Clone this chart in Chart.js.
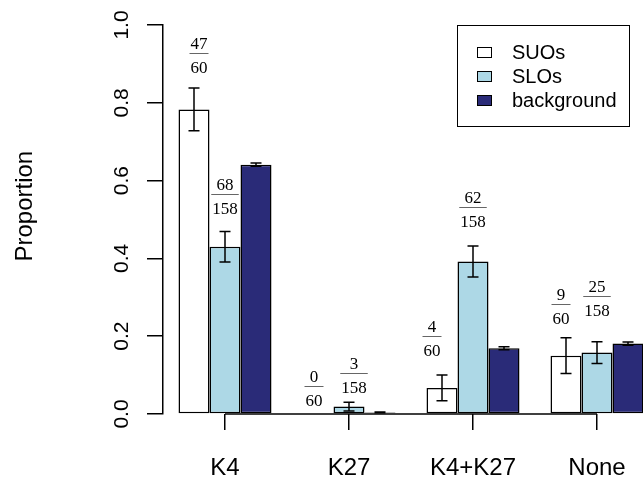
<!DOCTYPE html>
<html>
<head>
<meta charset="utf-8">
<script src="https://cdn.jsdelivr.net/npm/chart.js@4.4.1/dist/chart.umd.min.js"></script>
<style>
  html, body { margin: 0; padding: 0; background: #fff; overflow: hidden; }
  #wrap { width: 659px; height: 482px; }
</style>
</head>
<body>
<div id="wrap"><canvas id="myChart"></canvas></div>
<script>
// Datos
const categorias = ['K4', 'K27', 'K4+K27', 'None'];
const series = ['SUOs', 'SLOs', 'background'];
const valoresSUO = [0.783, 0, 0.067, 0.150];
const valoresSLO = [0.430, 0.019, 0.392, 0.158];
const valoresFondo = [0.641, 0.004, 0.169, 0.181];
const errorSUO = [0.055, 0, 0.033, 0.046];
const errorSLO = [0.039, 0.011, 0.040, 0.028];
const errorFondo = [0.004, 0.001, 0.004, 0.004];
const ticksY = [0, 0.2, 0.4, 0.6, 0.8, 1.0];

// fracciones: serie, categoria, numerador, denominador
const fracciones = [
  [0, 0, '47', '60'],
  [1, 0, '68', '158'],
  [0, 1, '0', '60'],
  [1, 1, '3', '158'],
  [0, 2, '4', '60'],
  [1, 2, '62', '158'],
  [0, 3, '9', '60'],
  [1, 3, '25', '158']
];
// donde va la raya de cada fraccion (valor en y) y corrimiento en x
const posFracciones = [
  [0.928, 5], [0.566, 0],
  [0.072, -4], [0.105, 5],
  [0.200, -10], [0.532, 0],
  [0.283, -5], [0.303, 0]
];

Chart.defaults.font.family = 'Liberation Sans';
Chart.defaults.color = '#000';

// barras de error
const barrasError = {
  id: 'barrasError',
  afterDatasetsDraw(chart) {
    const ctx = chart.ctx;
    const y = chart.scales.y;
    ctx.save();
    ctx.strokeStyle = '#000';
    ctx.lineWidth = 1.5;
    chart.data.datasets.forEach((ds, i) => {
      chart.getDatasetMeta(i).data.forEach((bar, j) => {
        const e = ds.errores[j];
        if (!e) return;
        const arriba = y.getPixelForValue(ds.data[j] + e);
        const abajo = y.getPixelForValue(ds.data[j] - e);
        ctx.beginPath();
        ctx.moveTo(bar.x, arriba); ctx.lineTo(bar.x, abajo);
        ctx.moveTo(bar.x - 5.5, arriba); ctx.lineTo(bar.x + 5.5, arriba);
        ctx.moveTo(bar.x - 5.5, abajo); ctx.lineTo(bar.x + 5.5, abajo);
        ctx.stroke();
      });
    });
    // linea del eje x, del primer tick al ultimo
    const x = chart.scales.x;
    const base = y.getPixelForValue(0);
    ctx.beginPath();
    ctx.moveTo(x.getPixelForTick(0), base);
    ctx.lineTo(x.getPixelForTick(categorias.length - 1), base);
    ctx.stroke();
    ctx.restore();
  }
};

// etiquetas tipo fraccion encima de las barras
const etiquetas = {
  id: 'etiquetas',
  afterDatasetsDraw(chart) {
    const ctx = chart.ctx;
    const y = chart.scales.y;
    ctx.save();
    ctx.font = '17px "Liberation Serif"';
    ctx.textAlign = 'center';
    ctx.textBaseline = 'alphabetic';
    fracciones.forEach(([s, c, num, den], k) => {
      const [alto, dx] = posFracciones[k];
      const bar = chart.getDatasetMeta(s).data[c];
      const cx = bar.x + dx;
      const ly = Math.round(y.getPixelForValue(alto)) + 0.5;
      const w = Math.max(ctx.measureText(num).width, ctx.measureText(den).width) + 2;
      ctx.strokeStyle = '#666';
      ctx.lineWidth = 1;
      ctx.beginPath();
      ctx.moveTo(cx - w / 2, ly); ctx.lineTo(cx + w / 2, ly);
      ctx.stroke();
      ctx.fillStyle = '#000';
      ctx.fillText(num, cx, ly - 5);
      ctx.fillText(den, cx, ly + 19);
    });
    ctx.restore();
  }
};

// leyenda con recuadro
const leyenda = {
  id: 'leyenda',
  afterDraw(chart) {
    const {ctx, chartArea} = chart;
    const x0 = chartArea.left + 294, y0 = chartArea.top;
    ctx.save();
    ctx.strokeStyle = '#000';
    ctx.lineWidth = 1;
    ctx.strokeRect(x0 + 0.5, y0 + 0.5, 172, 101);
    ctx.font = '20px "Liberation Sans"';
    ctx.textBaseline = 'middle';
    ctx.textAlign = 'left';
    chart.data.datasets.forEach((ds, i) => {
      const cy = y0 + 27 + i * 24;
      ctx.fillStyle = ds.backgroundColor;
      ctx.fillRect(x0 + 20, cy - 5, 14, 10);
      ctx.strokeRect(x0 + 20.5, cy - 4.5, 14, 10);
      ctx.fillStyle = '#000';
      ctx.fillText(ds.label, x0 + 55, cy + 1);
    });
    ctx.restore();
  }
};

const ctx = document.getElementById('myChart').getContext('2d');
const chart = new Chart(ctx, {
  type: 'bar',
  data: {
    labels: categorias,
    datasets: [
      { label: series[0], data: valoresSUO, errores: errorSUO, backgroundColor: '#ffffff' },
      { label: series[1], data: valoresSLO, errores: errorSLO, backgroundColor: '#add8e6' },
      { label: series[2], data: valoresFondo, errores: errorFondo, backgroundColor: '#2a2b78' }
    ]
  },
  options: {
    responsive: true,
    maintainAspectRatio: false,
    animation: false,
    datasets: {
      bar: {
        borderColor: '#000',
        borderWidth: 1.5,
        borderSkipped: false,
        barPercentage: 1,
        categoryPercentage: 0.75,
        clip: false
      }
    },
    layout: { padding: { top: 25, right: 0, bottom: 0, left: 0 } },
    plugins: { legend: { display: false }, tooltip: { enabled: false } },
    scales: {
      x: {
        offset: true,
        grid: { offset: false, drawOnChartArea: false, drawTicks: true, tickLength: 16, color: '#000', lineWidth: 1.5 },
        border: { display: false },
        ticks: { font: { size: 24 }, padding: 24, maxRotation: 0, autoSkip: false },
        afterFit(scale) { scale.height = 68; }
      },
      y: {
        min: 0,
        max: 1,
        afterBuildTicks(scale) { scale.ticks = ticksY.map(v => ({ value: v })); },
        ticks: {
          font: { size: 21 },
          minRotation: 90,
          maxRotation: 90,
          crossAlign: 'center',
          padding: 10,
          callback: v => Number(v).toFixed(1)
        },
        grid: { drawOnChartArea: false, drawTicks: true, tickLength: 16, color: '#000', lineWidth: 1.5 },
        border: { display: true, color: '#000', width: 1.5 },
        // los espacios iniciales suben el titulo como en el original
        title: { display: true, text: '    Proportion', font: { size: 24 }, padding: { top: 10.6, bottom: 0 } },
        afterFit(scale) { scale.width = 163; }
      }
    }
  },
  plugins: [barrasError, etiquetas, leyenda]
});
</script>
</body>
</html>
